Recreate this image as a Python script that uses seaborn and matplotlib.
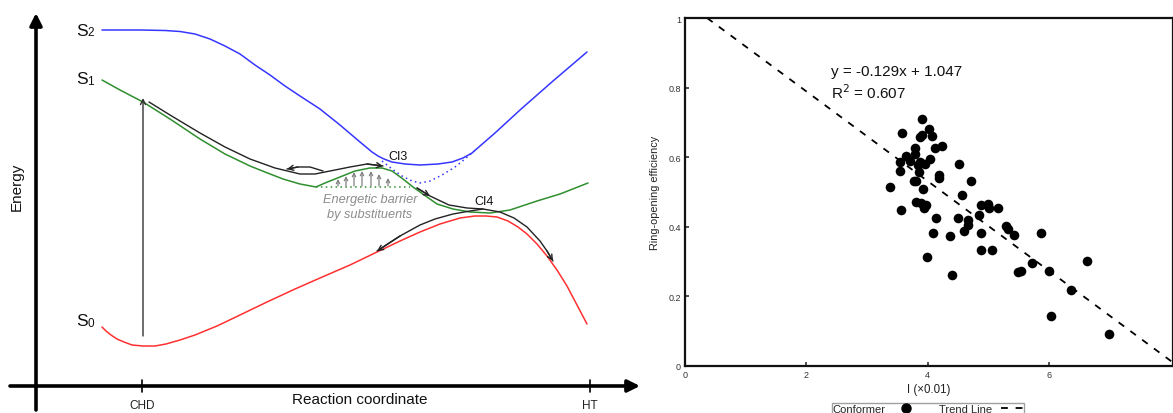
import numpy as np
import pandas as pd
import matplotlib
matplotlib.use("Agg")
import matplotlib.pyplot as plt
import seaborn as sns
from matplotlib.lines import Line2D

sns.set_theme(style="white")
plt.rcParams['font.family'] = ['Liberation Sans', 'DejaVu Sans']

# ---------------- Left panel: schematic potential energy curves ----------------
# (reaction coordinate, energy) (pixel-like units, y downwards)
s2_x = [102, 140, 165, 180, 195, 210, 225, 240, 255, 270, 285, 300, 320, 340, 360, 372, 378, 384, 392, 405, 420, 438, 452, 463, 472, 480, 495, 520, 553, 587]
s2_y = [31, 31, 31.5, 32.5, 35, 40, 47, 55, 66, 76, 87, 97, 110, 126, 143, 153, 157, 160, 163, 165, 166, 165, 163, 159, 154, 147, 134, 111, 82, 53]
s2_dot_x = [382, 392, 402, 412, 420, 430, 442, 455, 465, 474]
s2_dot_y = [162, 170, 177, 182, 184, 182, 176, 168, 160, 152]
s1_x = [102, 120, 143, 170, 200, 225, 250, 265, 283, 300, 316, 325, 340, 355, 370, 382, 392, 403, 413, 420, 437, 453, 470, 490, 510, 537, 560, 588]
s1_y = [81, 91, 103, 120, 140, 155, 167, 173, 180, 185, 188, 184, 178, 172, 169, 169, 172, 180, 188, 193, 205, 210, 213, 214, 211, 202, 195, 184]
s1_dot_x = [316, 410]
s1_dot_y = [188, 188]
s0_x = [102, 106, 111, 117, 124, 132, 143, 155, 166, 180, 195, 217, 240, 267, 295, 320, 350, 377, 400, 420, 440, 460, 475, 486, 497, 508, 518, 527, 537, 547, 557, 567, 577, 587]
s0_y = [328, 332, 336, 340, 343, 346, 347, 347, 345, 341, 336, 327, 316, 303, 290, 279, 266, 253, 242, 233, 225, 219, 217, 217, 218, 222, 228, 235, 245, 257, 271, 287, 306, 325]

path1_x = [149, 170, 200, 225, 250, 275, 300, 315, 330, 350, 367, 383]
path1_y = [103, 116, 134, 148, 160, 169, 175, 175, 172, 168, 165, 167]
loop_x = [323, 310, 298, 287]
loop_y = [172, 168, 168, 170]
path2_x = [417, 430, 449, 467, 483, 500, 514, 527, 540, 547, 553]
path2_y = [189, 197, 206, 209, 210, 213, 219, 228, 242, 252, 262]
path3_x = [483, 470, 453, 435, 420, 400, 377]
path3_y = [210, 212, 215, 220, 226, 237, 252]

barrier_x = [338, 346, 354, 362, 371, 379, 388]
barrier_top = [180, 177, 173, 172, 172, 175, 179]
barrier_base = 187

excite_x = 143
excite_from, excite_to = 337, 99

# ---------------- Right panel: scatter ----------------
conf_I = [3.907, 3.567, 4.027, 3.907, 3.874, 4.071, 4.236, 4.121, 3.781, 3.644, 3.797, 3.710,
          3.545, 4.038, 3.874, 3.962, 3.841, 3.534, 3.852, 4.181, 4.181, 4.521, 3.370, 3.775,
          3.808, 3.923, 4.712, 4.559, 3.556, 3.808, 3.890, 3.973, 3.945, 4.871, 4.992, 5.014,
          5.162, 4.142, 4.504, 4.838, 4.658, 4.658, 4.603, 4.093, 4.362, 4.882, 5.288, 5.326,
          5.419, 5.863, 3.995, 4.871, 5.052, 4.400, 5.485, 5.540, 5.715, 5.989, 6.625, 6.351,
          6.033, 6.986]
conf_eff = [0.711, 0.670, 0.680, 0.665, 0.658, 0.661, 0.633, 0.626, 0.626, 0.603, 0.608, 0.589,
            0.586, 0.596, 0.586, 0.581, 0.577, 0.560, 0.557, 0.550, 0.540, 0.580, 0.514, 0.531,
            0.531, 0.510, 0.531, 0.490, 0.447, 0.471, 0.469, 0.464, 0.454, 0.464, 0.466, 0.454,
            0.453, 0.426, 0.426, 0.433, 0.419, 0.404, 0.387, 0.383, 0.374, 0.383, 0.402, 0.395,
            0.377, 0.383, 0.312, 0.332, 0.332, 0.261, 0.270, 0.272, 0.296, 0.272, 0.302, 0.218,
            0.143, 0.091]
slope, intercept = -0.129, 1.047
trend_I = [0.364, 8.2]
x_ticks = [0, 2, 4, 6]
y_ticks = [0, 0.2, 0.4, 0.6, 0.8, 1]
y_ticklabels = ["0", "0.2", "0.4", "0.6", "0.8", "1"]

# ---------------- Figure ----------------
fig = plt.figure(figsize=(11.73, 4.14), dpi=100)

ax1 = fig.add_axes([0, 0, 640 / 1173, 1])
ax1.set_xlim(0, 640)
ax1.set_ylim(414, 0)
ax1.axis("off")

blue, green, red = "#3636ff", "#2f8f2f", "#ff3030"

def curve(x, y, color, lw=1.1, ls="-"):
    df = pd.DataFrame({"x": x, "y": y})
    sns.lineplot(data=df, x="x", y="y", sort=False, estimator=None, ax=ax1,
                 color=color, lw=lw, linestyle=ls)

curve(s2_x, s2_y, blue)
curve(s2_dot_x, s2_dot_y, blue, ls=(0, (1, 2.2)))
curve(s1_x, s1_y, green)
curve(s1_dot_x, s1_dot_y, green, ls=(0, (1, 2.2)))
curve(s0_x, s0_y, red)
curve(path1_x, path1_y, "#222222", lw=1.0)
curve(loop_x, loop_y, "#222222", lw=1.0)
curve(path2_x, path2_y, "#222222", lw=1.0)
curve(path3_x, path3_y, "#222222", lw=1.0)

def head(xs, ys, color="#222222", lw=1.0, ms=9):
    ax1.annotate("", xy=(xs[-1], ys[-1]), xytext=(xs[-2], ys[-2]),
                 arrowprops=dict(arrowstyle="->", color=color, lw=lw, mutation_scale=ms,
                                 shrinkA=0, shrinkB=0))

head(path1_x, path1_y)
head(loop_x, loop_y)
head(path2_x[:2], path2_y[:2])
head(path2_x, path2_y)
head(path3_x, path3_y)

for bx, bt in zip(barrier_x, barrier_top):
    ax1.annotate("", xy=(bx, bt), xytext=(bx, barrier_base),
                 arrowprops=dict(arrowstyle="->", color="#808080", lw=0.9, mutation_scale=6,
                                 shrinkA=0, shrinkB=0))

ax1.annotate("", xy=(excite_x, excite_to), xytext=(excite_x, excite_from),
             arrowprops=dict(arrowstyle="->", color="#333333", lw=1.0, mutation_scale=9,
                             shrinkA=0, shrinkB=0))

# axes arrows
ax1.annotate("", xy=(36, 14), xytext=(36, 411),
             arrowprops=dict(arrowstyle="-|>", color="black", lw=2.6, mutation_scale=18,
                             shrinkA=0, shrinkB=0))
ax1.annotate("", xy=(640, 387), xytext=(10, 387),
             arrowprops=dict(arrowstyle="-|>", color="black", lw=2.6, mutation_scale=18,
                             shrinkA=0, shrinkB=0))
for tx in (142, 590):
    ax1.plot([tx, tx], [381, 393], color="black", lw=1.2)

ax1.text(142, 406, "CHD", ha="center", va="center", fontsize=8.5, color="#222222")
ax1.text(590, 406, "HT", ha="center", va="center", fontsize=8.5, color="#222222")
ax1.text(360, 400, "Reaction coordinate", ha="center", va="center", fontsize=11, color="#111111")
ax1.text(17, 187, "Energy", ha="center", va="center", rotation=90, fontsize=11, color="#111111")

for lab, yy in (("2", 31), ("1", 80), ("0", 322)):
    ax1.text(76, yy, "S", ha="left", va="center", fontsize=12.5, color="#111111")
    ax1.text(87.5, yy + 2, lab, ha="left", va="center", fontsize=8.5, color="#111111")

ax1.text(398, 157, "CI3", ha="center", va="center", fontsize=9, color="#111111")
ax1.text(484, 202, "CI4", ha="center", va="center", fontsize=9, color="#111111")
ax1.text(370, 200, "Energetic barrier", ha="center", va="center", fontsize=9.2,
         style="italic", color="#8c8c8c")
ax1.text(370, 215, "by substituents", ha="center", va="center", fontsize=9.2,
         style="italic", color="#8c8c8c")

# ---------------- Right axes ----------------
ax2 = fig.add_axes([685 / 1173, 1 - 367 / 414, (1173 - 685) / 1173, (367 - 19) / 414])
df_pts = pd.DataFrame({"I": conf_I, "eff": conf_eff})
sns.scatterplot(data=df_pts, x="I", y="eff", ax=ax2, color="black", s=48,
                edgecolor="black", linewidth=0, legend=False)
tx = np.array(trend_I)
ax2.plot(tx, slope * tx + intercept, color="black", lw=1.3, dashes=(3.8, 4.3))
ax2.set_xlim(0, (1173 - 685) / 60.7)
ax2.set_ylim(0, 1)
ax2.set_xticks(x_ticks)
ax2.set_xticklabels([str(t) for t in x_ticks])
ax2.set_yticks(y_ticks)
ax2.set_yticklabels(y_ticklabels)
ax2.tick_params(direction="in", length=3, width=1.2, labelsize=6.5, colors="#333333",
                bottom=True, left=True, pad=3)
for sp in ax2.spines.values():
    sp.set_linewidth(1.6)
    sp.set_color("#111111")
ax2.set_xlabel("I (×0.01)", fontsize=8.3, color="#222222", labelpad=2.5)
ax2.set_ylabel("Ring-opening efficiency", fontsize=7.8, color="#222222", labelpad=6)
ax2.grid(False)

ax2.text(2.4, 0.847, "y = -0.129x + 1.047", fontsize=11, color="#111111", va="center")
ax2.text(2.4, 0.787, "R$^2$ = 0.607", fontsize=11, color="#111111", va="center")

h_conf = Line2D([], [], marker="o", color="black", linestyle="none", markersize=6.5)
h_trend = Line2D([], [], color="black", lw=1.3, dashes=(3.8, 4.3))
leg = fig.legend([h_conf, h_trend], ["Conformer", "Trend Line"], ncol=2, markerfirst=False,
                 loc="upper center", bbox_to_anchor=(928 / 1173, 1 - 398 / 414),
                 frameon=True, fancybox=False, edgecolor="#888888", fontsize=8,
                 handlelength=2.0, columnspacing=2.0, borderpad=0.1, handletextpad=0.8)
leg.get_frame().set_linewidth(1.0)

fig.savefig("out.png", dpi=100)
